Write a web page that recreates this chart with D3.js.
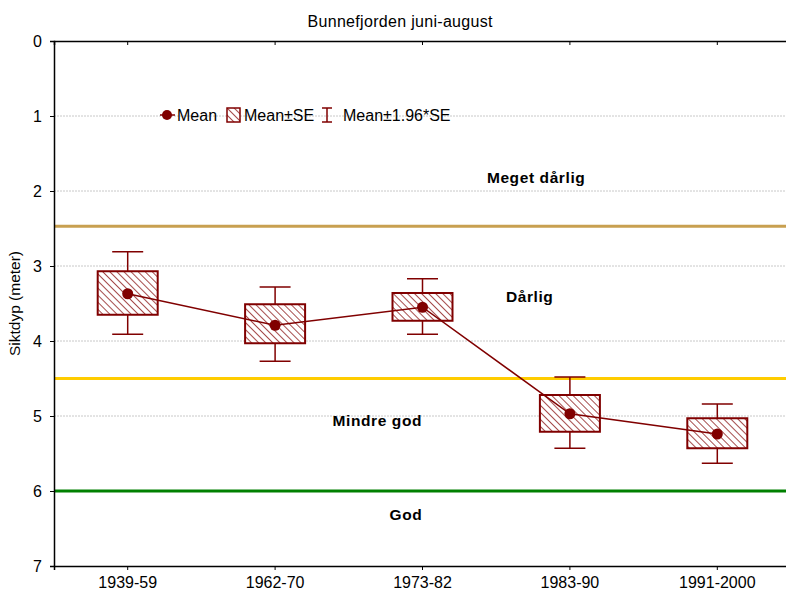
<!DOCTYPE html>
<html>
<head>
<meta charset="utf-8">
<script src="https://cdn.jsdelivr.net/npm/d3@7"></script>
<style>
  body { margin: 0; background: #fff; }
  svg { display: block; font-family: Arial, "Liberation Sans", sans-serif; }
</style>
</head>
<body>
<svg id="chart" width="786" height="591"></svg>
<script>
// periods and values (Siktdyp, meter)
const periods = ["1939-59", "1962-70", "1973-82", "1983-90", "1991-2000"];
const means = [3.37, 3.79, 3.55, 4.97, 5.24];
const seLow = [3.07, 3.51, 3.36, 4.72, 5.03];
const seHigh = [3.65, 4.03, 3.73, 5.21, 5.43];
const ciLow = [2.81, 3.28, 3.17, 4.48, 4.84];
const ciHigh = [3.91, 4.27, 3.91, 5.43, 5.63];
const yTicks = [0, 1, 2, 3, 4, 5, 6, 7];

// class limits and labels
const limits = [
  { value: 2.47, color: "#c8a050" },
  { value: 4.5, color: "#ffcc00" },
  { value: 6, color: "#008000" }
];
const classLabels = [
  { text: "Meget dårlig", x: "1983-90", dx: -83, value: 1.89 },
  { text: "Dårlig", x: "1983-90", dx: -64, value: 3.48 },
  { text: "Mindre god", x: "1973-82", dx: -90, value: 5.13 },
  { text: "God", x: "1973-82", dx: -33, value: 6.39 }
];

const svg = d3.select("#chart");
const margin = { left: 54, top: 41, right: -5, bottom: 25 };
const W = 786, H = 591;
const red = "#800000";

const x = d3.scaleBand().domain(periods).range([margin.left, W - margin.right]);
const y = d3.scaleLinear().domain([0, 7]).range([margin.top, H - margin.bottom]);

const defs = svg.append("defs");
const pat = defs.append("pattern")
  .attr("id", "hatch")
  .attr("patternUnits", "userSpaceOnUse")
  .attr("width", 5).attr("height", 5)
  .attr("patternTransform", "rotate(-45)");
pat.append("rect").attr("width", 5).attr("height", 5).attr("fill", "#fff");
pat.append("line").attr("x1", 0).attr("y1", 0).attr("x2", 0).attr("y2", 5)
  .attr("stroke", red).attr("stroke-width", 1.4);

// title
svg.append("text")
  .attr("x", 400).attr("y", 27)
  .attr("text-anchor", "middle")
  .attr("font-size", 16)
  .attr("textLength", 185)
  .text("Bunnefjorden juni-august");

// gridlines
svg.append("g")
  .selectAll("line")
  .data(yTicks.filter(d => d > 0 && d < 7))
  .join("line")
  .attr("x1", margin.left).attr("x2", W)
  .attr("y1", d => y(d)).attr("y2", d => y(d))
  .attr("stroke", "#c8c8c8")
  .attr("stroke-dasharray", "2,1");

// class limit lines
svg.append("g")
  .selectAll("line")
  .data(limits)
  .join("line")
  .attr("x1", margin.left).attr("x2", W)
  .attr("y1", d => y(d.value)).attr("y2", d => y(d.value))
  .attr("stroke", d => d.color)
  .attr("stroke-width", 3);

svg.append("g")
  .selectAll("text")
  .data(classLabels)
  .join("text")
  .attr("x", d => x(d.x) + x.bandwidth() / 2 + d.dx)
  .attr("y", d => y(d.value))
  .attr("font-size", 15.5)
  .attr("font-weight", "bold")
  .attr("letter-spacing", 0.6)
  .text(d => d.text);

// axes
const yAxis = svg.append("g")
  .attr("transform", `translate(${margin.left},0)`)
  .call(d3.axisLeft(y).tickValues(yTicks).tickFormat(d3.format("d")).tickSize(4).tickPadding(8));
yAxis.select(".domain").attr("stroke-width", 1.5);
yAxis.selectAll("text").attr("font-size", 16).attr("fill", "#000");

const xAxis = svg.append("g")
  .attr("transform", `translate(0,${y(7)})`)
  .call(d3.axisBottom(x).tickSize(4).tickPadding(8));
xAxis.select(".domain").attr("stroke-width", 1.5);
xAxis.selectAll("text").attr("font-size", 16).attr("fill", "#000").attr("dy", "0.6em");

const xTop = svg.append("g")
  .attr("transform", `translate(0,${y(0)})`)
  .call(d3.axisBottom(x).tickSize(4).tickFormat(""));
xTop.select(".domain").attr("stroke-width", 1.5);

svg.append("text")
  .attr("transform", `translate(20,${(y(0) + y(7)) / 2}) rotate(-90)`)
  .attr("text-anchor", "middle")
  .attr("font-size", 15.5)
  .text("Siktdyp (meter)");

// data
const rows = periods.map((p, i) => ({
  p, mean: means[i], lo: seLow[i], hi: seHigh[i], cl: ciLow[i], ch: ciHigh[i]
}));
const cx = d => x(d.p) + x.bandwidth() / 2;
const boxW = 60, capW = 31;

const g = svg.append("g");
g.selectAll(".whisk")
  .data(rows)
  .join("path")
  .attr("fill", "none").attr("stroke", red).attr("stroke-width", 1.5)
  .attr("d", d => `M${cx(d)},${y(d.cl)}V${y(d.ch)}` +
    `M${cx(d) - capW / 2},${y(d.cl)}h${capW}` +
    `M${cx(d) - capW / 2},${y(d.ch)}h${capW}`);

g.selectAll(".box")
  .data(rows)
  .join("rect")
  .attr("x", d => cx(d) - boxW / 2)
  .attr("y", d => y(d.lo))
  .attr("width", boxW)
  .attr("height", d => y(d.hi) - y(d.lo))
  .attr("fill", "url(#hatch)")
  .attr("stroke", red).attr("stroke-width", 2);

g.append("path")
  .datum(rows)
  .attr("fill", "none").attr("stroke", red).attr("stroke-width", 1.5)
  .attr("d", d3.line().x(cx).y(d => y(d.mean)));

g.selectAll(".mean")
  .data(rows)
  .join("circle")
  .attr("cx", cx).attr("cy", d => y(d.mean))
  .attr("r", 5.5).attr("fill", red);

// legend
const lg = svg.append("g").attr("transform", "translate(0,115)");
lg.append("circle").attr("cx", 167).attr("cy", 0).attr("r", 5).attr("fill", red);
lg.append("line").attr("x1", 160).attr("x2", 175).attr("stroke", red).attr("stroke-width", 1.5);
lg.append("text").attr("x", 177).attr("y", 6).attr("font-size", 16).text("Mean");
lg.append("rect").attr("x", 227).attr("y", -7).attr("width", 13).attr("height", 14)
  .attr("fill", "url(#hatch)").attr("stroke", red).attr("stroke-width", 1.5);
lg.append("text").attr("x", 244).attr("y", 6).attr("font-size", 16).text("Mean±SE");
lg.append("path").attr("fill", "none").attr("stroke", red).attr("stroke-width", 1.5)
  .attr("d", "M327,-7V7M322,-7h10M322,7h10");
lg.append("text").attr("x", 343).attr("y", 6).attr("font-size", 16).text("Mean±1.96*SE");
</script>
</body>
</html>
